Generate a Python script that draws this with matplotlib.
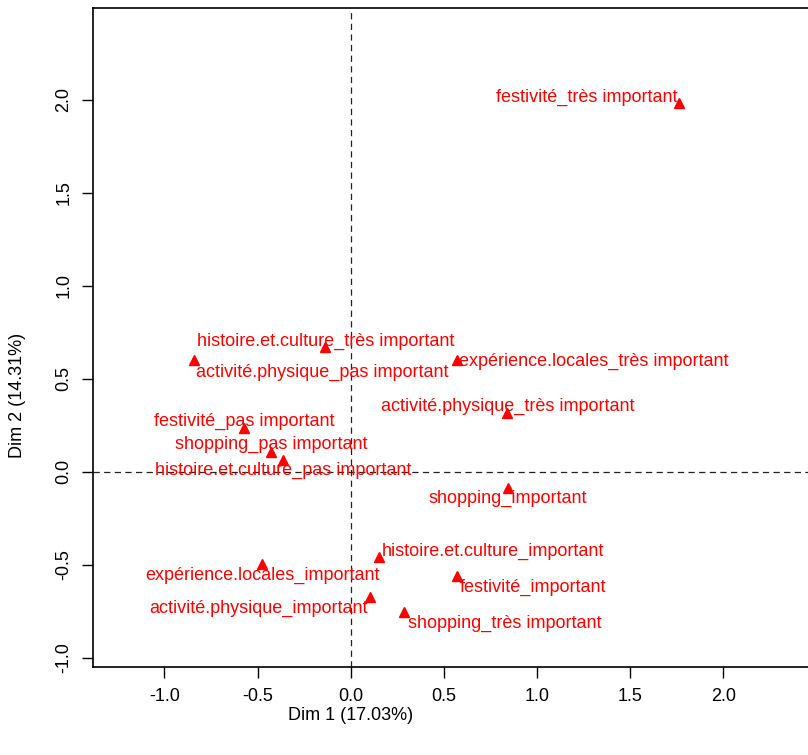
import matplotlib
matplotlib.use("Agg")
import matplotlib.pyplot as plt

plt.rcParams['font.family'] = ['Liberation Sans', 'DejaVu Sans']

# category names (MCA modalities)
labels = [
    "festivité_très important",
    "histoire.et.culture_très important",
    "activité.physique_pas important",
    "expérience.locales_très important",
    "activité.physique_très important",
    "festivité_pas important",
    "shopping_pas important",
    "histoire.et.culture_pas important",
    "shopping_important",
    "histoire.et.culture_important",
    "expérience.locales_important",
    "festivité_important",
    "activité.physique_important",
    "shopping_très important",
]
# coordinates on Dim 1 / Dim 2
dim1 = [1.763, -0.137, -0.840, 0.571, 0.840, -0.571, -0.427, -0.363,
        0.845, 0.152, -0.476, 0.571, 0.104, 0.286]
dim2 = [1.982, 0.668, 0.603, 0.603, 0.318, 0.237, 0.108, 0.065,
        -0.086, -0.458, -0.495, -0.560, -0.673, -0.754]
# where the label text sits (centre), as placed by the autolab routine
lab_x = [1.269, -0.133, -0.151, 1.304, 0.840, -0.571, -0.427, -0.363,
         0.845, 0.762, -0.476, 0.976, -0.497, 0.829]
lab_y = [2.015, 0.701, 0.534, 0.593, 0.351, 0.270, 0.146, 0.006,
         -0.145, -0.430, -0.559, -0.624, -0.737, -0.818]

fig = plt.figure(figsize=(8.08, 7.55), dpi=100)
ax = fig.add_axes([93/808, 1-667/755, (816.6-93)/808, (667-8)/755])
ax.set_xlim(-1.383, 2.5)
ax.set_ylim(-1.05, 2.493)

ax.axvline(0, color='#222222', ls=(0, (5, 3.5)), lw=0.9)
ax.axhline(0, color='#222222', ls=(0, (5, 3.5)), lw=0.9)

ax.plot(dim1, dim2, ls='none', marker='^', color='red', markersize=7.5)
for t, x, y in zip(labels, lab_x, lab_y):
    ax.text(x, y, t, color='red', fontsize=13, ha='center', va='center')

ax.set_xticks([-1.0, -0.5, 0.0, 0.5, 1.0, 1.5, 2.0])
ax.set_yticks([-1.0, -0.5, 0.0, 0.5, 1.0, 1.5, 2.0])
ax.set_xticklabels(["-1.0", "-0.5", "0.0", "0.5", "1.0", "1.5", "2.0"])
ax.set_yticklabels(["-1.0", "-0.5", "0.0", "0.5", "1.0", "1.5", "2.0"],
                   rotation=90, va='center')
ax.tick_params(direction='out', length=8, width=1, labelsize=13, pad=7)
for s in ax.spines.values():
    s.set_linewidth(1.2)

fig.text(350.6/808, 1-715/755, "Dim 1 (17.03%)", ha='center', va='center', fontsize=13)
fig.text(18/808, 1-395/755, "Dim 2 (14.31%)", ha='center', va='center',
         rotation=90, fontsize=13)

fig.savefig("out.png", dpi=100)
